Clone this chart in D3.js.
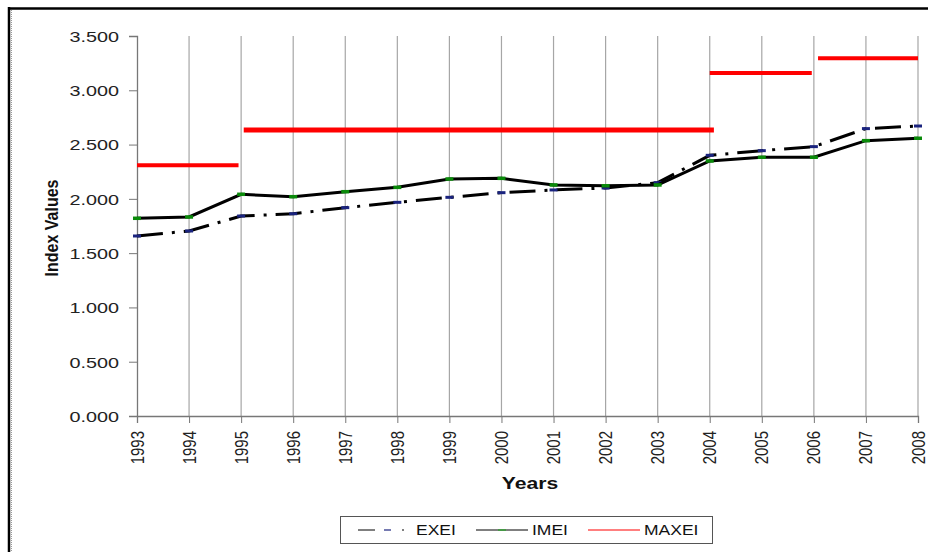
<!DOCTYPE html>
<html>
<head>
<meta charset="utf-8">
<script src="https://cdn.jsdelivr.net/npm/d3@7"></script>
<style>
    body { margin: 0; background: #fff; }
    text { font-family: "Liberation Sans", Arial, sans-serif; }
</style>
</head>
<body>
<svg id="chart" width="928" height="552"></svg>
<script>
// chart data
var years = [1993, 1994, 1995, 1996, 1997, 1998, 1999, 2000, 2001, 2002, 2003, 2004, 2005, 2006, 2007, 2008];
var exei = [1.658, 1.704, 1.842, 1.863, 1.919, 1.968, 2.014, 2.057, 2.082, 2.100, 2.149, 2.401, 2.444, 2.481, 2.647, 2.671];
var imei = [1.821, 1.833, 2.042, 2.020, 2.066, 2.106, 2.183, 2.189, 2.128, 2.121, 2.128, 2.349, 2.383, 2.383, 2.536, 2.558];
// MAXEI is drawn as flat segments over periods
var maxStart = [1993, 1995.05, 2004, 2006.08];
var maxEnd = [1994.95, 2004.08, 2005.96, 2008];
var maxValues = [2.309, 2.634, 3.159, 3.295];
var yTicks = [0, 0.5, 1, 1.5, 2, 2.5, 3, 3.5];
var seriesNames = ["EXEI", "IMEI", "MAXEI"];

// the original picture is a bit stretched sideways, so is the text
var sx = 1.32;

var svg = d3.select("#chart");

// outer frame (top and left only, the rest is cut off)
svg.append("line").attr("x1", 8).attr("x2", 928).attr("y1", 8.5).attr("y2", 8.5)
    .style("stroke", "#000").style("stroke-width", 2.5);
svg.append("line").attr("x1", 9).attr("x2", 9).attr("y1", 7).attr("y2", 552)
    .style("stroke", "#000").style("stroke-width", 2.5);
svg.append("line").attr("x1", 11.5).attr("x2", 11.5).attr("y1", 10).attr("y2", 552)
    .style("stroke", "#999").style("stroke-width", 1).style("stroke-dasharray", "1,1");

var x = d3.scaleLinear().domain([1993, 2008]).range([137, 918]);
var y = d3.scaleLinear().domain([0, 3.5]).range([416, 36]);

// vertical grid lines
svg.append("g").selectAll("line").data(years.slice(1))
    .enter().append("line")
    .attr("x1", function (d) { return x(d); })
    .attr("x2", function (d) { return x(d); })
    .attr("y1", y(3.5)).attr("y2", y(0))
    .style("stroke", "#a6a6a6").style("stroke-width", 1.2);

// y axis
var yAxis = svg.append("g").attr("transform", "translate(137,0)")
    .call(d3.axisLeft(y).tickValues(yTicks).tickSize(8)
        .tickFormat(function (d) { return d3.format(".3f")(d); }));
yAxis.select(".domain").style("stroke", "#777").style("stroke-width", 1.3);
yAxis.selectAll(".tick line").style("stroke", "#777");
yAxis.selectAll("text").style("font-size", "15px").style("fill", "#222")
    .attr("x", 0).attr("dy", "0.36em")
    .attr("transform", "translate(-18,0) scale(" + sx + ",1)");

// x axis
var xAxis = svg.append("g").attr("transform", "translate(0,416)")
    .call(d3.axisBottom(x).tickValues(years).tickSize(7).tickFormat(d3.format("d")));
xAxis.select(".domain").style("stroke", "#777").style("stroke-width", 1.3);
xAxis.selectAll(".tick line").style("stroke", "#777");
xAxis.selectAll("text")
    .style("font-size", "15px").style("fill", "#222")
    .attr("text-anchor", "end")
    .attr("transform", "scale(1.18,1) rotate(-90)")
    .attr("x", -15).attr("y", 0).attr("dy", "0.34em");

// axis titles
svg.append("text")
    .attr("transform", "translate(530,489) scale(" + sx + ",1)")
    .attr("text-anchor", "middle")
    .style("font-size", "16px").style("font-weight", "bold").style("fill", "#111")
    .text("Years");
svg.append("text")
    .attr("transform", "translate(58,228) scale(1.2,1) rotate(-90)")
    .attr("text-anchor", "middle")
    .style("font-size", "16px").style("font-weight", "bold").style("fill", "#111")
    .text("Index Values");

// MAXEI segments
svg.append("g").selectAll("line").data(maxValues)
    .enter().append("line")
    .attr("x1", function (d, i) { return x(maxStart[i]); })
    .attr("x2", function (d, i) { return x(maxEnd[i]); })
    .attr("y1", function (d) { return y(d); })
    .attr("y2", function (d) { return y(d); })
    .style("stroke", "#ff0000")
    .style("stroke-width", function (d, i) { return i == 1 ? 5 : 4; });

var line = d3.line()
    .x(function (d, i) { return x(years[i]); })
    .y(function (d) { return y(d); });

// EXEI dash dot line
svg.append("path").datum(exei)
    .attr("d", line)
    .style("fill", "none").style("stroke", "#000").style("stroke-width", 3)
    .style("stroke-dasharray", "26,9,3,9");
svg.append("g").selectAll("line").data(exei)
    .enter().append("line")
    .attr("x1", function (d, i) { return x(years[i]) - 4; })
    .attr("x2", function (d, i) { return x(years[i]) + 4; })
    .attr("y1", function (d) { return y(d); })
    .attr("y2", function (d) { return y(d); })
    .style("stroke", "#1a237e").style("stroke-width", 3);

// IMEI solid line
svg.append("path").datum(imei)
    .attr("d", line)
    .style("fill", "none").style("stroke", "#000").style("stroke-width", 3);
svg.append("g").selectAll("line").data(imei)
    .enter().append("line")
    .attr("x1", function (d, i) { return x(years[i]) - 4; })
    .attr("x2", function (d, i) { return x(years[i]) + 4; })
    .attr("y1", function (d) { return y(d); })
    .attr("y2", function (d) { return y(d); })
    .style("stroke", "#0a8a0a").style("stroke-width", 3.5);

// legend
var legend = svg.append("g");
legend.append("rect").attr("x", 340.5).attr("y", 516.5).attr("width", 372).attr("height", 27)
    .style("fill", "#fff").style("stroke", "#555").style("stroke-width", 1);

var lx = [358, 476, 588];
var tx = [416, 532, 644];
var ly = 530;

// EXEI symbol
legend.append("line").attr("x1", lx[0]).attr("x2", lx[0] + 17).attr("y1", ly).attr("y2", ly)
    .style("stroke", "#000").style("stroke-width", 1);
legend.append("line").attr("x1", lx[0] + 26).attr("x2", lx[0] + 33).attr("y1", ly).attr("y2", ly)
    .style("stroke", "#1a237e").style("stroke-width", 1.2);
legend.append("line").attr("x1", lx[0] + 44).attr("x2", lx[0] + 46).attr("y1", ly).attr("y2", ly)
    .style("stroke", "#000").style("stroke-width", 1);
// IMEI symbol
legend.append("line").attr("x1", lx[1]).attr("x2", lx[1] + 52).attr("y1", ly).attr("y2", ly)
    .style("stroke", "#000").style("stroke-width", 1);
legend.append("line").attr("x1", lx[1] + 22).attr("x2", lx[1] + 30).attr("y1", ly).attr("y2", ly)
    .style("stroke", "#22aa22").style("stroke-width", 1.2);
// MAXEI symbol
legend.append("line").attr("x1", lx[2]).attr("x2", lx[2] + 52).attr("y1", ly).attr("y2", ly)
    .style("stroke", "#ff0000").style("stroke-width", 1.2);

legend.selectAll("text.leg").data(seriesNames)
    .enter().append("text").attr("class", "leg")
    .attr("transform", function (d, i) { return "translate(" + tx[i] + "," + ly + ") scale(1.25,1)"; })
    .attr("dy", "0.36em")
    .style("font-size", "14px").style("fill", "#111")
    .text(function (d) { return d; });
</script>
</body>
</html>
